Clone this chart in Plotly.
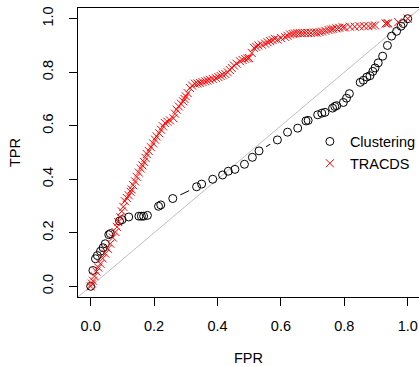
import plotly.graph_objects as go

# Clustering ROC points
clust_fpr = [0.000, 0.007, 0.015, 0.021, 0.031, 0.039, 0.046, 0.057, 0.062, 0.091,
             0.099, 0.120, 0.152, 0.160, 0.167, 0.179, 0.214, 0.221, 0.259, 0.334,
             0.350, 0.385, 0.416, 0.434, 0.455, 0.485, 0.510, 0.531, 0.589, 0.621,
             0.653, 0.679, 0.686, 0.716, 0.729, 0.739, 0.763, 0.770, 0.776, 0.797,
             0.807, 0.816, 0.850, 0.860, 0.871, 0.881, 0.890, 0.897, 0.907, 0.921,
             0.936, 0.949, 0.965, 0.979, 0.986, 1.000]
clust_tpr = [0.000, 0.059, 0.103, 0.115, 0.131, 0.144, 0.159, 0.193, 0.197, 0.244,
             0.249, 0.259, 0.262, 0.262, 0.262, 0.265, 0.299, 0.304, 0.328, 0.372,
             0.382, 0.400, 0.416, 0.430, 0.437, 0.456, 0.482, 0.506, 0.547, 0.576,
             0.591, 0.618, 0.620, 0.641, 0.647, 0.650, 0.666, 0.672, 0.675, 0.687,
             0.703, 0.720, 0.762, 0.770, 0.782, 0.787, 0.803, 0.816, 0.835, 0.860,
             0.900, 0.935, 0.953, 0.972, 0.982, 1.000]

# TRACDS ROC points
tracds_fpr = [0.000, 0.004, 0.007, 0.012, 0.018, 0.024, 0.031, 0.038, 0.046, 0.054,
              0.062, 0.070, 0.078, 0.083, 0.087, 0.093, 0.098, 0.103, 0.108, 0.114,
              0.120, 0.126, 0.129, 0.134, 0.140, 0.145, 0.152, 0.158, 0.163, 0.168,
              0.173, 0.177, 0.183, 0.190, 0.197, 0.203, 0.208, 0.216, 0.222, 0.228,
              0.234, 0.242, 0.250, 0.261, 0.266, 0.271, 0.278, 0.285, 0.292, 0.296,
              0.300, 0.306, 0.313, 0.320, 0.329, 0.337, 0.345, 0.353, 0.361, 0.368,
              0.376, 0.385, 0.395, 0.403, 0.410, 0.416, 0.425, 0.432, 0.439, 0.445,
              0.452, 0.460, 0.471, 0.479, 0.487, 0.495, 0.500, 0.508, 0.515, 0.522,
              0.529, 0.540, 0.550, 0.558, 0.566, 0.574, 0.581, 0.590, 0.600, 0.613,
              0.621, 0.629, 0.637, 0.644, 0.652, 0.660, 0.668, 0.676, 0.685, 0.695,
              0.705, 0.713, 0.722, 0.730, 0.740, 0.750, 0.758, 0.765, 0.775, 0.784,
              0.795, 0.802, 0.818, 0.833, 0.848, 0.862, 0.876, 0.888, 0.897, 0.930,
              0.935, 0.938, 0.970, 1.000]
tracds_tpr = [0.000, 0.010, 0.021, 0.038, 0.055, 0.070, 0.084, 0.104, 0.122, 0.140,
              0.159, 0.182, 0.203, 0.222, 0.240, 0.258, 0.280, 0.297, 0.318, 0.330,
              0.340, 0.353, 0.362, 0.378, 0.392, 0.409, 0.425, 0.440, 0.452, 0.465,
              0.480, 0.494, 0.506, 0.520, 0.534, 0.548, 0.560, 0.572, 0.585, 0.598,
              0.610, 0.615, 0.620, 0.628, 0.645, 0.660, 0.672, 0.682, 0.691, 0.700,
              0.710, 0.722, 0.741, 0.750, 0.757, 0.758, 0.760, 0.763, 0.766, 0.769,
              0.772, 0.775, 0.778, 0.782, 0.786, 0.791, 0.793, 0.800, 0.808, 0.816,
              0.825, 0.832, 0.841, 0.846, 0.850, 0.852, 0.853, 0.872, 0.891, 0.895,
              0.900, 0.903, 0.907, 0.912, 0.916, 0.920, 0.925, 0.922, 0.928, 0.932,
              0.936, 0.941, 0.943, 0.945, 0.946, 0.946, 0.946, 0.947, 0.947, 0.947,
              0.948, 0.948, 0.950, 0.952, 0.955, 0.958, 0.960, 0.962, 0.964, 0.966,
              0.968, 0.967, 0.970, 0.970, 0.972, 0.972, 0.972, 0.974, 0.975, 0.982,
              0.982, 0.983, 0.987, 1.000]

diag = [-0.1, 1.1]
ticks = [0.0, 0.2, 0.4, 0.6, 0.8, 1.0]
tick_text = ["0.0", "0.2", "0.4", "0.6", "0.8", "1.0"]

FONT = "Liberation Sans, Arial, sans-serif"
FS = 14.5

fig = go.Figure()
# Clustering connecting line (type "b" with gaps)
fig.add_trace(go.Scatter(x=clust_fpr, y=clust_tpr, mode="lines",
                         line=dict(color="black", width=1), showlegend=False,
                         hoverinfo="skip"))
# white gaps around points
fig.add_trace(go.Scatter(x=clust_fpr, y=clust_tpr, mode="markers",
                         marker=dict(symbol="circle", size=17, color="white",
                                     line=dict(width=0)),
                         showlegend=False, hoverinfo="skip"))
# diagonal reference line
fig.add_trace(go.Scatter(x=diag, y=diag, mode="lines",
                         line=dict(color="#BEBEBE", width=1), showlegend=False,
                         hoverinfo="skip"))
fig.add_trace(go.Scatter(x=clust_fpr, y=clust_tpr, mode="markers", name="Clustering",
                         marker=dict(symbol="circle-open", size=8, color="black",
                                     line=dict(width=1, color="black"))))
fig.add_trace(go.Scatter(x=tracds_fpr, y=tracds_tpr, mode="markers", name="TRACDS",
                         marker=dict(symbol="x-thin-open", size=8, color="#FF0000",
                                     line=dict(width=1, color="#FF0000"))))

fig.update_layout(
    width=419, height=366,
    margin=dict(l=78, r=0, t=8, b=69, autoexpand=False),
    paper_bgcolor="white", plot_bgcolor="white",
    font=dict(family=FONT, size=FS, color="black"),
    showlegend=True,
    legend=dict(x=0.68, y=0.50, xanchor="left", yanchor="middle",
                bgcolor="rgba(0,0,0,0)", borderwidth=0,
                font=dict(family=FONT, size=FS, color="black"),
                itemwidth=30, tracegroupgap=0),
    xaxis=dict(range=[-0.04, 1.0356], tickvals=ticks, ticktext=tick_text,
               showgrid=False, zeroline=False, showline=True, mirror=True,
               linecolor="black", linewidth=1, ticks="outside", ticklen=8,
               tickcolor="black", tickwidth=1, ticklabelstandoff=8,
               tickfont=dict(family=FONT, size=FS, color="black")),
    yaxis=dict(range=[-0.04, 1.04], tickvals=ticks, ticktext=tick_text,
               showgrid=False, zeroline=False, showline=True, mirror=False,
               linecolor="black", linewidth=1, ticks="outside", ticklen=8,
               tickcolor="black", tickwidth=1, tickangle=-90, ticklabelstandoff=10,
               tickfont=dict(family=FONT, size=FS, color="black")),
    annotations=[
        dict(text="FPR", xref="paper", yref="paper", x=0.5, y=(297 - 358) / 289,
             xanchor="center", yanchor="middle", showarrow=False,
             font=dict(family=FONT, size=FS, color="black")),
        dict(text="TPR", xref="paper", yref="paper", x=(14.5 - 78) / 341, y=0.5,
             xanchor="center", yanchor="middle", textangle=-90, showarrow=False,
             font=dict(family=FONT, size=FS, color="black")),
    ],
)

fig.write_html("out.html")
